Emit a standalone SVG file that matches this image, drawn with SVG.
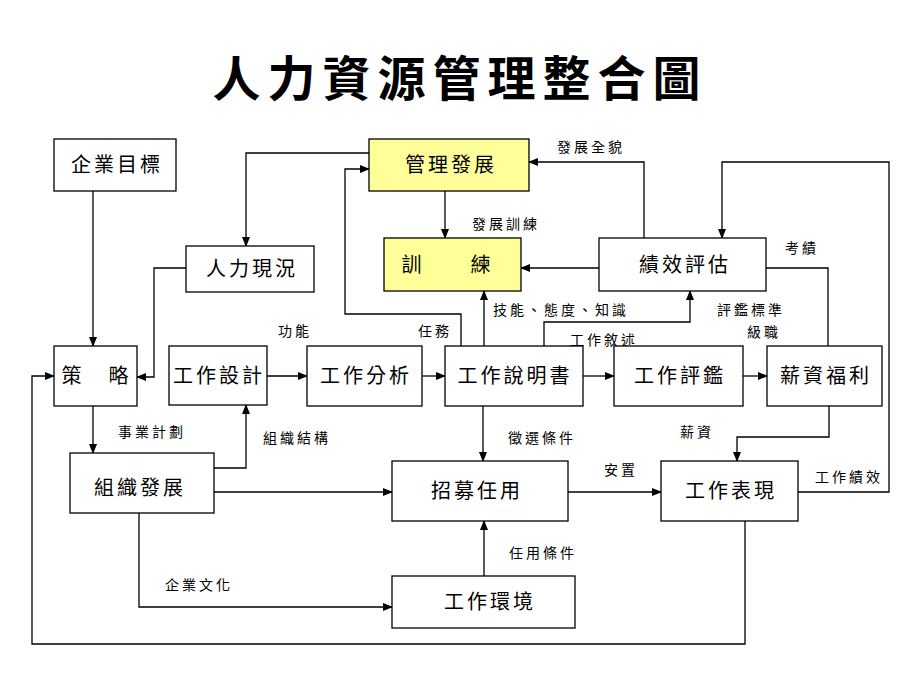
<svg xmlns="http://www.w3.org/2000/svg" width="920" height="690" viewBox="0 0 920 690">
<defs>
<marker id="ah" markerWidth="10" markerHeight="8" refX="9" refY="4" orient="auto" markerUnits="userSpaceOnUse">
<path d="M0,0 L10,4 L0,8 Z" fill="#000"/>
</marker>
<style>
.box{fill:#fff;stroke:#000;stroke-width:1.3}
.yel{fill:#ffff99;stroke:#000;stroke-width:1.3}
.bt{font-family:"Noto Sans CJK TC","Noto Sans CJK SC",sans-serif;font-size:20px;letter-spacing:3px;text-anchor:middle;fill:#000}
.lb{font-family:"Noto Sans CJK TC","Noto Sans CJK SC",sans-serif;font-size:14px;letter-spacing:3px;fill:#000}
.ln{fill:none;stroke:#000;stroke-width:1.3}
.ar{fill:none;stroke:#000;stroke-width:1.3;marker-end:url(#ah)}
.title{font-family:"Noto Sans CJK TC","Noto Sans CJK SC",sans-serif;font-size:48px;font-weight:bold;letter-spacing:7px;text-anchor:middle;fill:#000}
</style>
</defs>
<rect width="920" height="690" fill="#fff"/>
<text class="title" x="460" y="96">人力資源管理整合圖</text>

<g id="connectors">
<path class="ar" d="M93,191 V346"/>
<path class="ar" d="M186,268 H154 V377 H137"/>
<path class="ar" d="M369,153 H246 V246"/>
<path class="ar" d="M461,346 V314 H345 V169 H369"/>
<path class="ar" d="M445,191 V238"/>
<path class="ar" d="M644,238 V162 H529"/>
<path class="ar" d="M599,268 H521"/>
<path class="ar" d="M484,346 V291"/>
<path class="ar" d="M544,346 V322 H690 V291"/>
<path class="ar" d="M798,492 H889 V162 H722 V238"/>
<path class="ln" d="M766,268 H828 V346"/>
<path class="ar" d="M267,376 H307"/>
<path class="ar" d="M422,376 H445"/>
<path class="ar" d="M583,376 H614"/>
<path class="ar" d="M743,376 H767"/>
<path class="ar" d="M93,406 V453"/>
<path class="ar" d="M214,468 H246 V405"/>
<path class="ar" d="M214,492 H392"/>
<path class="ar" d="M483,406 V461"/>
<path class="ar" d="M568,492 H661"/>
<path class="ar" d="M829,406 V437 H737 V461"/>
<path class="ar" d="M745,521 V644 H32 V376 H54"/>
<path class="ar" d="M139,513 V607 H392"/>
<path class="ar" d="M484,576 V521"/>
</g>

<g id="labels">
<text class="lb" x="557" y="152">發展全貌</text>
<text class="lb" x="472" y="229">發展訓練</text>
<text class="lb" x="493" y="315">技能、態度、知識</text>
<text class="lb" x="717" y="315">評鑑標準</text>
<text class="lb" x="747" y="337">級職</text>
<text class="lb" x="570" y="345">工作敘述</text>
<text class="lb" x="785" y="253">考績</text>
<text class="lb" x="278" y="336">功能</text>
<text class="lb" x="418" y="336">任務</text>
<text class="lb" x="118" y="437">事業計劃</text>
<text class="lb" x="263" y="443">組織結構</text>
<text class="lb" x="508" y="443">徵選條件</text>
<text class="lb" x="680" y="437">薪資</text>
<text class="lb" x="604" y="475">安置</text>
<text class="lb" x="815" y="482">工作績效</text>
<text class="lb" x="509" y="558">任用條件</text>
<text class="lb" x="165" y="590">企業文化</text>
</g>

<g id="n-qiyemubiao"><rect class="box" x="54" y="139" width="122" height="52"/><text class="bt" x="117" y="172">企業目標</text></g>
<g id="n-renlixiankuang"><rect class="box" x="186" y="246" width="128" height="46"/><text class="bt" x="252" y="276">人力現況</text></g>
<g id="n-guanlifazhan"><rect class="yel" x="369" y="139" width="160" height="52"/><text class="bt" x="451" y="172">管理發展</text></g>
<g id="n-xunlian"><rect class="yel" x="384" y="238" width="137" height="53"/><text class="bt"><tspan x="413" y="272">訓</tspan><tspan x="482" y="272">練</tspan></text></g>
<g id="n-jixiaopinggu"><rect class="box" x="599" y="238" width="167" height="53"/><text class="bt" x="685" y="272">績效評估</text></g>
<g id="n-celue"><rect class="box" x="54" y="346" width="83" height="60"/><text class="bt"><tspan x="73" y="383">策</tspan><tspan x="120" y="383">略</tspan></text></g>
<g id="n-gongzuosheji"><rect class="box" x="169" y="346" width="98" height="59"/><text class="bt" x="219" y="383">工作設計</text></g>
<g id="n-gongzuofenxi"><rect class="box" x="307" y="346" width="115" height="60"/><text class="bt" x="366" y="383">工作分析</text></g>
<g id="n-gongzuoshuomingshu"><rect class="box" x="445" y="346" width="138" height="60"/><text class="bt" x="515" y="383">工作說明書</text></g>
<g id="n-gongzuopingjian"><rect class="box" x="614" y="346" width="129" height="60"/><text class="bt" x="680" y="383">工作評鑑</text></g>
<g id="n-xinzifuli"><rect class="box" x="767" y="346" width="115" height="60"/><text class="bt" x="826" y="383">薪資福利</text></g>
<g id="n-zuzhifazhan"><rect class="box" x="70" y="453" width="144" height="60"/><text class="bt" x="140" y="495">組織發展</text></g>
<g id="n-zhaomurenyong"><rect class="box" x="392" y="461" width="176" height="60"/><text class="bt" x="477" y="498">招募任用</text></g>
<g id="n-gongzuobiaoxian"><rect class="box" x="661" y="461" width="137" height="60"/><text class="bt" x="731" y="498">工作表現</text></g>
<g id="n-gongzuohuanjing"><rect class="box" x="392" y="576" width="183" height="52"/><text class="bt" x="490" y="609">工作環境</text></g>
</svg>
